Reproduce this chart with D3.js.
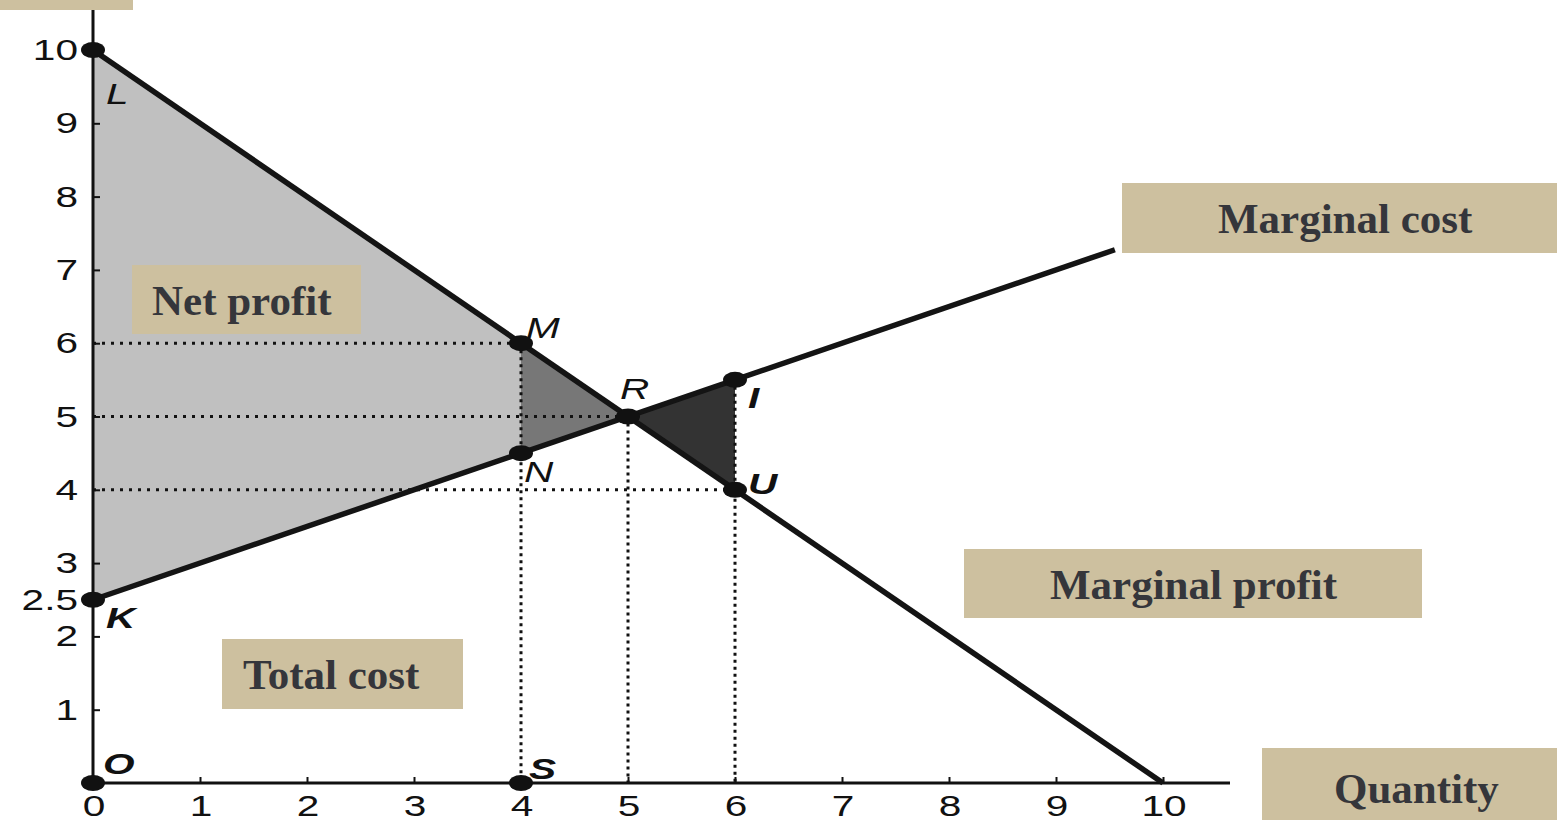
<!DOCTYPE html>
<html>
<head>
<meta charset="utf-8">
<script src="https://cdn.jsdelivr.net/npm/d3@7"></script>
<style>
  body { margin: 0; background: #fff; }
  svg { display: block; }
</style>
</head>
<body>
<svg id="chart" width="1557" height="820"></svg>
<script>
// data
var xTicks = [0, 1, 2, 3, 4, 5, 6, 7, 8, 9, 10];
var yTicks = [1, 2, 2.5, 3, 4, 5, 6, 7, 8, 9, 10];
var profitLine = [[0, 10], [10, 0]];
var costLine = [[0, 2.5], [9.55, 7.275]];
var netProfitArea = [[0, 10], [4, 6], [4, 4.5], [0, 2.5]];
var lostArea = [[4, 6], [5, 5], [4, 4.5]];
var overArea = [[5, 5], [6, 5.5], [6, 4]];
var pointNames = ["L", "K", "O", "S", "M", "N", "R", "I", "U"];
var pointX = [0, 0, 0, 4, 4, 4, 5, 6, 6];
var pointY = [10, 2.5, 0, 0, 6, 4.5, 5, 5.5, 4];
var hGuides = [[6, 0, 4], [5, 0, 5], [4, 0, 6]];     // y, from x, to x
var vGuides = [[4, 6, 0], [5, 5, 0], [6, 5.5, 0]];   // x, from y, to y
var boxTexts = ["", "Marginal cost", "Net profit", "Marginal profit", "Total cost", "Quantity"];

// layout
var boxes = [
  {x: 0, y: -10, w: 133, h: 20, tx: 0},
  {x: 1122, y: 183, w: 440, h: 70, tx: 96},
  {x: 132, y: 265, w: 229, h: 69, tx: 20},
  {x: 964, y: 549, w: 458, h: 69, tx: 86},
  {x: 222, y: 639, w: 241, h: 70, tx: 21},
  {x: 1262, y: 748, w: 300, h: 80, tx: 72}
];
var labelOffset = {
  L: [13, 54, false], K: [13, 28, true], O: [10, -9, true], S: [8, -4, true],
  M: [5, -5, false], N: [3, 29, false], R: [-8, -18, false], I: [13, 28, true], U: [13, 4, true]
};

var svg = d3.select("#chart");
var x = d3.scaleLinear().domain([0, 10]).range([93, 1163]);
var y = d3.scaleLinear().domain([0, 10]).range([783, 50]);
var stretch = 1.4;

var line = d3.line()
  .x(function(d) { return x(d[0]); })
  .y(function(d) { return y(d[1]); });

// shaded areas
svg.append("path").datum(netProfitArea).attr("d", line.curve(d3.curveLinearClosed))
  .attr("fill", "#c0c0c0");
svg.append("path").datum(lostArea).attr("d", line)
  .attr("fill", "#777777");
svg.append("path").datum(overArea).attr("d", line)
  .attr("fill", "#333333");
line.curve(d3.curveLinear);

// dotted guides
svg.selectAll(".hguide").data(hGuides).enter().append("line")
  .attr("class", "hguide")
  .attr("x1", function(d) { return x(d[1]); })
  .attr("x2", function(d) { return x(d[2]); })
  .attr("y1", function(d) { return y(d[0]); })
  .attr("y2", function(d) { return y(d[0]); })
  .attr("stroke", "#111").attr("stroke-width", 3)
  .attr("stroke-dasharray", "3,6");

svg.selectAll(".vguide").data(vGuides).enter().append("line")
  .attr("class", "vguide")
  .attr("x1", function(d) { return x(d[0]); })
  .attr("x2", function(d) { return x(d[0]); })
  .attr("y1", function(d) { return y(d[1]); })
  .attr("y2", function(d) { return y(d[2]); })
  .attr("stroke", "#111").attr("stroke-width", 3)
  .attr("stroke-dasharray", "3,4");

// axes
var xAxis = svg.append("g")
  .attr("transform", "translate(0," + y(0) + ")")
  .call(d3.axisBottom(x).tickValues(xTicks).tickSize(-6).tickFormat(""));
xAxis.select(".domain").remove();
xAxis.selectAll(".tick line").attr("stroke", "#111").attr("stroke-width", 2);

var yAxis = svg.append("g")
  .attr("transform", "translate(" + x(0) + ",0)")
  .call(d3.axisLeft(y).tickValues(yTicks.filter(function(v) { return v !== 2.5; })).tickSize(-7).tickFormat(""));
yAxis.select(".domain").remove();
yAxis.selectAll(".tick line").attr("stroke", "#111").attr("stroke-width", 2);

svg.append("line")
  .attr("x1", x(0)).attr("x2", 1230).attr("y1", y(0)).attr("y2", y(0))
  .attr("stroke", "#111").attr("stroke-width", 3);
svg.append("line")
  .attr("x1", x(0)).attr("x2", x(0)).attr("y1", y(0)).attr("y2", 8)
  .attr("stroke", "#111").attr("stroke-width", 3);

svg.selectAll(".xlab").data(xTicks).enter().append("text")
  .attr("class", "xlab")
  .attr("transform", function(d) { return "translate(" + (x(d) + 1) + "," + (y(0) + 33) + ") scale(" + stretch + ",1)"; })
  .attr("text-anchor", "middle")
  .attr("font-family", "Liberation Sans, Arial, sans-serif")
  .attr("font-size", 29).attr("fill", "#111")
  .text(function(d) { return d; });

svg.selectAll(".ylab").data(yTicks).enter().append("text")
  .attr("class", "ylab")
  .attr("transform", function(d) { return "translate(" + (x(0) - 15) + "," + (y(d) + 10) + ") scale(" + stretch + ",1)"; })
  .attr("text-anchor", "end")
  .attr("font-family", "Liberation Sans, Arial, sans-serif")
  .attr("font-size", 29).attr("fill", "#111")
  .text(function(d) { return d; });

// main lines
svg.append("path").datum(profitLine).attr("d", line)
  .attr("fill", "none").attr("stroke", "#141414").attr("stroke-width", 5.5);
svg.append("path").datum(costLine).attr("d", line)
  .attr("fill", "none").attr("stroke", "#141414").attr("stroke-width", 5.5);

// points
svg.selectAll(".pt").data(pointNames).enter().append("ellipse")
  .attr("class", "pt")
  .attr("cx", function(d, i) { return x(pointX[i]); })
  .attr("cy", function(d, i) { return y(pointY[i]); })
  .attr("rx", 12).attr("ry", 8)
  .attr("fill", "#111");

svg.selectAll(".ptlab").data(pointNames).enter().append("text")
  .attr("class", "ptlab")
  .attr("transform", function(d, i) {
    var o = labelOffset[d];
    return "translate(" + (x(pointX[i]) + o[0]) + "," + (y(pointY[i]) + o[1]) + ") scale(" + stretch + ",1)";
  })
  .attr("font-family", "Liberation Sans, Arial, sans-serif")
  .attr("font-style", "italic")
  .attr("font-weight", function(d) { return labelOffset[d][2] ? "bold" : "normal"; })
  .attr("font-size", 29).attr("fill", "#111")
  .text(function(d) { return d; });

// tan label boxes
var box = svg.selectAll(".box").data(boxTexts).enter().append("g").attr("class", "box");
box.append("rect")
  .attr("x", function(d, i) { return boxes[i].x; })
  .attr("y", function(d, i) { return boxes[i].y; })
  .attr("width", function(d, i) { return boxes[i].w; })
  .attr("height", function(d, i) { return boxes[i].h; })
  .attr("fill", "#cdc09f");
box.append("text")
  .attr("x", function(d, i) { return boxes[i].x + boxes[i].tx; })
  .attr("y", function(d, i) { return boxes[i].y + boxes[i].h / 2 + 15; })
  .attr("font-family", "Liberation Serif, Times New Roman, serif")
  .attr("font-weight", "bold")
  .attr("font-size", 43).attr("fill", "#35363b")
  .text(function(d) { return d; });
</script>
</body>
</html>
